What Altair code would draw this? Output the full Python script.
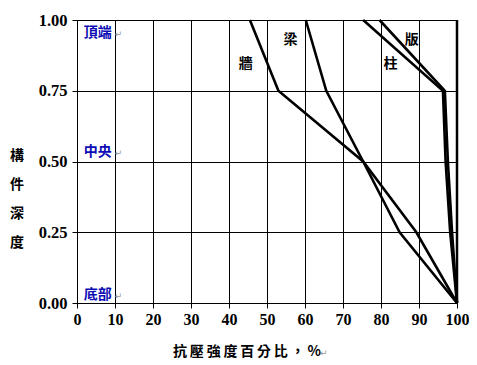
import altair as alt
import pandas as pd

# ---- data ----
depth = [1.00, 0.75, 0.50, 0.25, 0.00]
wall = [45.5, 53.0, 75.3, 89.3, 100.0]      # 牆
beam = [60.2, 65.6, 75.3, 84.9, 100.0]      # 梁
column = [75.3, 96.3, 97.0, 98.2, 100.0]    # 柱
slab = [79.6, 96.8, 97.6, 98.7, 100.0]      # 版

series_names = ["牆", "梁", "柱", "版"]
series_values = [wall, beam, column, slab]

label_text = ["牆", "梁", "版", "柱"]
label_x = [44.4, 56.2, 88.1, 82.5]
label_y = [0.843, 0.929, 0.929, 0.843]

pos_text = ["頂端", "中央", "底部"]
pos_y = [0.954, 0.534, 0.028]

x_ticks = [0, 10, 20, 30, 40, 50, 60, 70, 80, 90, 100]
y_ticks = [0.0, 0.25, 0.5, 0.75, 1.0]

rows = []
for name, vals in zip(series_names, series_values):
    for i, (v, d) in enumerate(zip(vals, depth)):
        rows.append({"series": name, "strength": v, "depth": d, "order": i})
df = pd.DataFrame(rows)

lab_df = pd.DataFrame({"text": label_text, "x": label_x, "y": label_y})
pos_df = pd.DataFrame({"text": pos_text, "x": [1.8] * 3, "y": pos_y})

W, H = 380, 283
serif = "Liberation Serif"
cjk = "Noto Sans CJK TC"

xs = alt.Scale(domain=[0, 100], nice=False)
ys = alt.Scale(domain=[0, 1], nice=False)

x_axis = alt.Axis(values=x_ticks, title=None, grid=True, gridColor="black",
                  gridOpacity=1, gridWidth=1, tickSize=5, tickColor="black",
                  domainColor="black", labelFont=serif, labelFontSize=16,
                  labelFontWeight="bold", labelColor="black", labelPadding=3,
                  labelFlush=False, labelOverlap=False)
y_axis = alt.Axis(values=y_ticks, format=".2f", title=None, grid=True,
                  gridColor="black", gridOpacity=1, gridWidth=1, tickSize=5,
                  tickColor="black", domainColor="black", labelFont=serif,
                  labelFontSize=16.5, labelFontWeight="bold", labelColor="black",
                  labelPadding=5, labelFlush=False, labelOverlap=False)

lines = alt.Chart(df).mark_line(color="black", strokeWidth=2.6).encode(
    x=alt.X("strength:Q", scale=xs, axis=x_axis),
    y=alt.Y("depth:Q", scale=ys, axis=y_axis),
    detail="series:N",
    order="order:Q",
)

right_edge = alt.Chart(pd.DataFrame({"strength": [100]})).mark_rule(color="black", strokeWidth=2.5).encode(
    x=alt.X("strength:Q", scale=xs, axis=x_axis)
)

labels = alt.Chart(lab_df).mark_text(font=cjk, fontSize=14, fontWeight="bold", color="black").encode(
    x=alt.X("x:Q", scale=xs, axis=x_axis), y=alt.Y("y:Q", scale=ys, axis=y_axis), text="text:N"
)

pos_labels = alt.Chart(pos_df).mark_text(font=cjk, fontSize=14, fontWeight="bold",
                                         color="#0c0cb4", align="left").encode(
    x=alt.X("x:Q", scale=xs, axis=x_axis), y=alt.Y("y:Q", scale=ys, axis=y_axis), text="text:N"
)
pos_marks = alt.Chart(pos_df).mark_text(font="DejaVu Sans", fontSize=9, color="#999999",
                                        align="left", dx=31, dy=1).encode(
    x=alt.X("x:Q", scale=xs, axis=x_axis), y=alt.Y("y:Q", scale=ys, axis=y_axis), text=alt.value("↵")
)

x_title = alt.Chart(pd.DataFrame({"t": ["\u2009".join("抗壓強度百分比，%")]})).mark_text(
    font=cjk, fontSize=14, fontWeight="bold", color="black"
).encode(x=alt.value(170), y=alt.value(332), text="t:N")
x_title_mark = alt.Chart(pd.DataFrame({"t": ["↵"]})).mark_text(
    font="DejaVu Sans", fontSize=9, color="#999999", align="left"
).encode(x=alt.value(243), y=alt.value(333), text="t:N")

y_title = alt.Chart(pd.DataFrame({"t": ["構"]})).mark_text(
    text=["構", "件", "深", "度"], font=cjk, fontSize=14, fontWeight="bold",
    color="black", lineHeight=29, baseline="middle"
).encode(x=alt.value(-60), y=alt.value(136))

chart = alt.layer(lines, right_edge, labels, pos_labels, pos_marks,
                  x_title, x_title_mark, y_title).properties(
    width=W, height=H,
    autosize=alt.AutoSizeParams(type="none"),
    padding={"left": 69, "top": 12, "right": 12, "bottom": 60},
).configure_view(stroke="black", strokeWidth=1).configure(background="white")

chart.save("out.html", embed_options={"renderer": "svg", "actions": False})
